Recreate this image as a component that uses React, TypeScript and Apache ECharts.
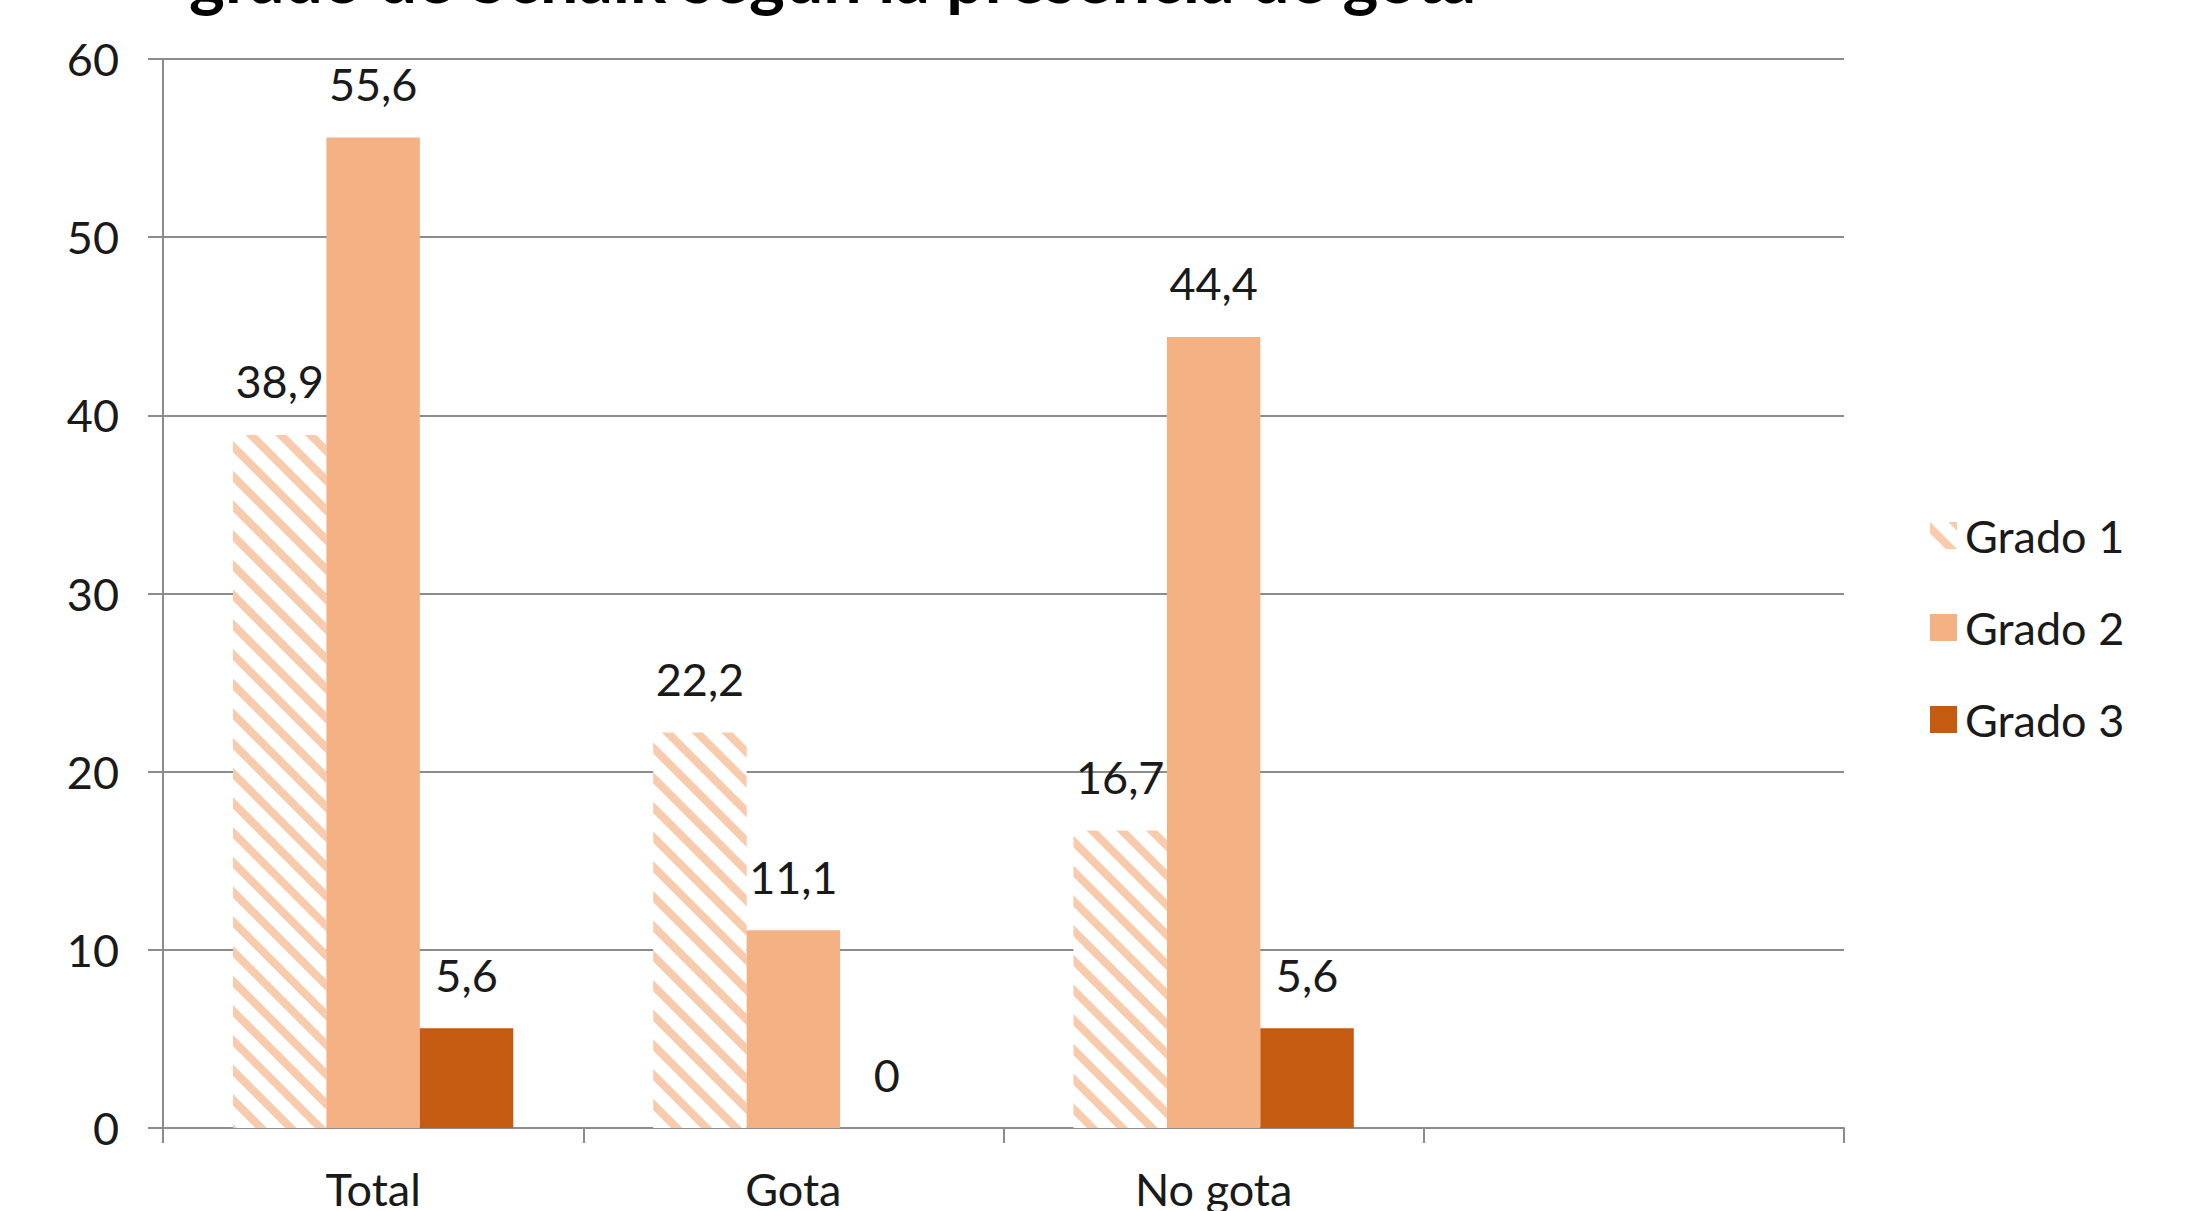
import React, { useEffect, useRef } from "react";
import * as echarts from "echarts";

const categories = ["Total", "Gota", "No gota", ""];
const grado1 = [38.9, 22.2, 16.7, null];
const grado2 = [55.6, 11.1, 44.4, null];
const grado3 = [5.6, 0, 5.6, null];
const seriesNames = ["Grado 1", "Grado 2", "Grado 3"];
const yTicks = { min: 0, max: 60, interval: 10 };
const titleText = "grado de Schaik según la presencia de gota";

const FONT = "Lato, 'Open Sans', sans-serif";
const TEXT_COLOR = "#1a1a1a";
const GRID_COLOR = "#8c8c8c";

const fmt = (v: number) => String(v).replace(".", ",");

export default function App() {
  const ref = useRef<HTMLDivElement>(null);
  useEffect(() => {
    if (!ref.current) return;
    const chart = echarts.init(ref.current, null, { renderer: "svg" });
    const label = {
      show: true,
      position: "top" as const,
      distance: 31,
      fontSize: 45,
      fontFamily: FONT,
      color: TEXT_COLOR,
      formatter: (p: any) => (p.value == null ? "" : fmt(p.value)),
    };
    chart.setOption({
      animation: false,
      backgroundColor: "#ffffff",
      textStyle: { fontFamily: FONT },
      graphic: [
        {
          type: "text",
          x: 189,
          y: 10,
          style: {
            text: titleText,
            fontSize: 68,
            fontWeight: "bold",
            fontFamily: FONT,
            fill: "#000",
            textVerticalAlign: "bottom",
          },
        },
      ],
      grid: { left: 163, right: 347, top: 59, bottom: 78, containLabel: false },
      legend: {
        orient: "vertical",
        left: 1925,
        top: 508,
        icon: "rect",
        itemWidth: 27,
        itemHeight: 27,
        itemGap: 47,
        data: seriesNames,
        textStyle: {
          fontSize: 45,
          lineHeight: 44,
          fontFamily: FONT,
          color: TEXT_COLOR,
          padding: [0, 0, 0, 3],
        },
      },
      xAxis: {
        type: "category",
        data: categories,
        axisLine: { show: true, lineStyle: { color: GRID_COLOR, width: 2 } },
        axisTick: { show: true, length: 15, lineStyle: { color: GRID_COLOR, width: 2 } },
        axisLabel: { fontSize: 45, fontFamily: FONT, color: TEXT_COLOR, margin: 38 },
      },
      yAxis: {
        type: "value",
        min: yTicks.min,
        max: yTicks.max,
        interval: yTicks.interval,
        axisLine: { show: true, lineStyle: { color: GRID_COLOR, width: 2 } },
        axisTick: { show: true, length: 15, lineStyle: { color: GRID_COLOR, width: 2 } },
        splitLine: { show: true, lineStyle: { color: GRID_COLOR, width: 2 } },
        axisLabel: { fontSize: 45, fontFamily: FONT, color: TEXT_COLOR, margin: 44 },
      },
      series: [
        {
          name: seriesNames[0],
          type: "bar",
          data: grado1,
          barGap: "0%",
          barCategoryGap: "33.3%",
          itemStyle: {
            color: "#ffffff",
            decal: {
              symbol: "rect",
              symbolSize: 1,
              color: "#F8CBAD",
              dashArrayX: [1, 0],
              dashArrayY: [8, 13],
              rotation: Math.PI / 4,
            },
          },
          label,
        },
        {
          name: seriesNames[1],
          type: "bar",
          data: grado2,
          barGap: "0%",
          barCategoryGap: "33.3%",
          itemStyle: { color: "#F4B183" },
          label,
        },
        {
          name: seriesNames[2],
          type: "bar",
          data: grado3,
          barGap: "0%",
          barCategoryGap: "33.3%",
          itemStyle: { color: "#C55A11" },
          label,
        },
      ],
    });
    return () => chart.dispose();
  }, []);
  return <div ref={ref} style={{ width: 2191, height: 1211, position: "absolute", left: 0, top: 0 }} />;
}
